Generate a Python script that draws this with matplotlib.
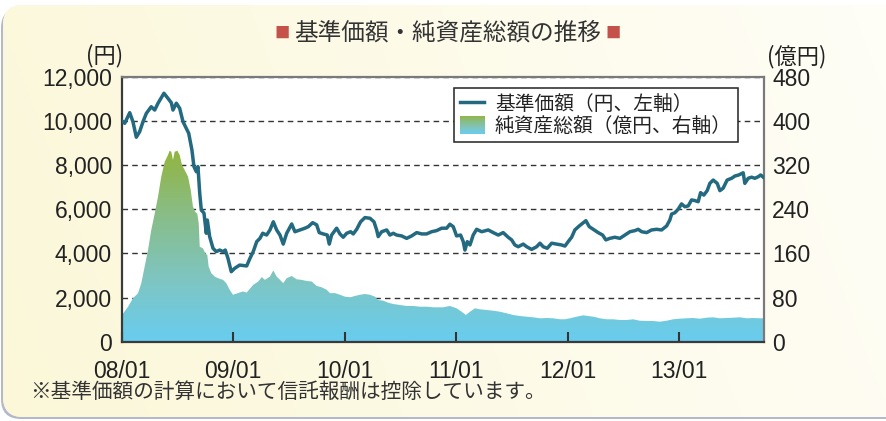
import numpy as np
import matplotlib
matplotlib.use('Agg')
import matplotlib.pyplot as plt
from matplotlib.patches import FancyBboxPatch, Patch
from matplotlib.lines import Line2D
from matplotlib.colors import LinearSegmentedColormap
from matplotlib.ticker import FuncFormatter, FixedLocator

plt.rcParams['font.family'] = ['Liberation Sans', 'Noto Sans CJK JP', 'DejaVu Sans']

# ---------------- data (decimal year, value) ----------------
nav_t = [2008.003, 2008.027, 2008.072, 2008.101, 2008.131, 2008.161, 2008.191, 2008.221, 2008.265, 2008.296,
         2008.326, 2008.379, 2008.415, 2008.445, 2008.460, 2008.490, 2008.520, 2008.550, 2008.579, 2008.601,
         2008.630, 2008.648, 2008.669, 2008.684, 2008.700, 2008.714, 2008.738, 2008.759, 2008.768, 2008.789,
         2008.819, 2008.848, 2008.879, 2008.909, 2008.929, 2008.953, 2008.983, 2009.013, 2009.058, 2009.121,
         2009.151, 2009.180, 2009.211, 2009.240, 2009.265, 2009.300, 2009.330, 2009.360, 2009.390, 2009.420,
         2009.449, 2009.480, 2009.525, 2009.554, 2009.599, 2009.644, 2009.674, 2009.713, 2009.749, 2009.772,
         2009.808, 2009.844, 2009.862, 2009.883, 2009.928, 2009.958, 2009.987, 2010.018, 2010.054, 2010.077,
         2010.108, 2010.143, 2010.182, 2010.227, 2010.263, 2010.287, 2010.301, 2010.332, 2010.377, 2010.406,
         2010.436, 2010.466, 2010.511, 2010.556, 2010.601, 2010.646, 2010.691, 2010.735, 2010.780, 2010.825,
         2010.870, 2010.915, 2010.944, 2010.974, 2011.004, 2011.040, 2011.064, 2011.079, 2011.100, 2011.124,
         2011.153, 2011.184, 2011.229, 2011.288, 2011.333, 2011.378, 2011.422, 2011.467, 2011.498, 2011.527,
         2011.557, 2011.602, 2011.633, 2011.677, 2011.722, 2011.752, 2011.781, 2011.817, 2011.857, 2011.901,
         2011.946, 2011.976, 2012.005, 2012.036, 2012.065, 2012.104, 2012.134, 2012.164, 2012.194, 2012.230,
         2012.274, 2012.314, 2012.343, 2012.379, 2012.424, 2012.469, 2012.514, 2012.559, 2012.604, 2012.633,
         2012.664, 2012.709, 2012.753, 2012.798, 2012.843, 2012.888, 2012.917, 2012.933, 2012.962, 2012.992,
         2013.022, 2013.052, 2013.082, 2013.112, 2013.142, 2013.171, 2013.193, 2013.222, 2013.252, 2013.276,
         2013.306, 2013.342, 2013.366, 2013.395, 2013.431, 2013.471, 2013.500, 2013.535, 2013.575, 2013.590,
         2013.620, 2013.650, 2013.680, 2013.710, 2013.732, 2013.755]
nav_v = [10000, 9890, 10370, 9960, 9260, 9510, 9960, 10340, 10640, 10490,
         10800, 11250, 11020, 10820, 10490, 10800, 10570, 9960, 9660, 9440,
         8680, 7930, 7700, 7930, 6720, 5960, 5820, 4910, 5510, 4760,
         4230, 4080, 4150, 4080, 4150, 3780, 3170, 3320, 3470, 3430,
         3780, 4080, 4530, 4680, 4910, 4830, 5060, 5430, 5060, 4830,
         4420, 4910, 5330, 4980, 5060, 5140, 5210, 5390, 5290, 4940,
         4880, 4830, 4420, 4830, 5140, 4880, 4730, 4910, 4980, 4880,
         5090, 5430, 5620, 5590, 5430, 5060, 4760, 4980, 5060, 4830,
         4910, 4830, 4790, 4680, 4790, 4940, 4880, 4880, 4980, 5030,
         5140, 5140, 5320, 5210, 4790, 4830, 4530, 4150, 4530, 4380,
         4830, 5090, 4980, 5060, 4940, 4830, 4940, 4730, 4610, 4380,
         4300, 4420, 4300, 4180, 4300, 4460, 4300, 4230, 4460, 4420,
         4380, 4330, 4530, 4730, 5060, 5240, 5360, 5480, 5210, 5090,
         4940, 4830, 4610, 4680, 4730, 4680, 4830, 4980, 5030, 5090,
         4980, 4940, 5060, 5090, 5060, 5240, 5510, 5780, 5840, 6000,
         6240, 6110, 6150, 6420, 6390, 6340, 6750, 6640, 6840, 7170,
         7320, 7170, 6840, 6950, 7320, 7400, 7500, 7550, 7650, 7170,
         7400, 7450, 7400, 7470, 7550, 7450]

aum_t = [2008.003, 2008.056, 2008.101, 2008.146, 2008.176, 2008.206, 2008.236, 2008.265, 2008.296, 2008.326,
         2008.355, 2008.386, 2008.415, 2008.430, 2008.445, 2008.460, 2008.475, 2008.499, 2008.520, 2008.541,
         2008.565, 2008.595, 2008.619, 2008.639, 2008.660, 2008.678, 2008.691, 2008.700, 2008.729, 2008.750,
         2008.768, 2008.780, 2008.804, 2008.834, 2008.864, 2008.909, 2008.938, 2008.969, 2008.998, 2009.043,
         2009.088, 2009.121, 2009.180, 2009.225, 2009.256, 2009.285, 2009.330, 2009.360, 2009.390, 2009.420,
         2009.449, 2009.480, 2009.525, 2009.570, 2009.614, 2009.659, 2009.704, 2009.749, 2009.794, 2009.839,
         2009.868, 2009.913, 2009.958, 2010.003, 2010.048, 2010.092, 2010.137, 2010.182, 2010.227, 2010.272,
         2010.301, 2010.346, 2010.391, 2010.436, 2010.496, 2010.556, 2010.615, 2010.675, 2010.735, 2010.795,
         2010.884, 2010.944, 2011.004, 2011.049, 2011.088, 2011.124, 2011.169, 2011.213, 2011.274, 2011.333,
         2011.393, 2011.453, 2011.512, 2011.572, 2011.632, 2011.691, 2011.752, 2011.812, 2011.871, 2011.931,
         2011.976, 2012.021, 2012.081, 2012.140, 2012.185, 2012.230, 2012.290, 2012.350, 2012.409, 2012.469,
         2012.529, 2012.588, 2012.648, 2012.709, 2012.768, 2012.827, 2012.888, 2012.947, 2013.007, 2013.067,
         2013.126, 2013.186, 2013.247, 2013.306, 2013.366, 2013.426, 2013.485, 2013.547, 2013.605, 2013.664,
         2013.724, 2013.755]
aum_v = [48.4, 63, 78.6, 87.6, 106, 136, 166, 202, 232, 263,
         299, 326, 338, 346, 344, 329, 344, 346, 338, 320,
         311, 299, 275, 245, 235, 232, 214, 172, 169, 160,
         157, 136, 124, 118, 115, 112, 106, 94, 85, 88,
         91, 89, 103, 109, 117, 112, 118, 129, 118, 112,
         106, 115, 119, 113, 112, 110, 109, 101, 98.5, 94,
         88, 88, 85, 81.5, 80.4, 82.8, 85, 86.4, 85, 81.5,
         75.5, 74.3, 70.6, 68.3, 66.5, 64.7, 64.7, 63.4, 63.4, 62.3,
         62.3, 64.7, 60.5, 54.3, 48.4, 54.3, 60.5, 58.7, 57.4, 56.1,
         54.3, 51.4, 48.4, 46.5, 45.3, 44.2, 42.4, 42.9, 42.4, 40.6,
         40.6, 42.4, 45.3, 47.8, 46.5, 45.3, 42.4, 40.6, 40.6, 39.3,
         39.3, 40.6, 38, 37.5, 37.5, 36.2, 38, 40.6, 41.7, 42.4,
         42.9, 41.7, 43.5, 44.2, 42.4, 42.9, 43.5, 44.2, 42.4, 42.9,
         42.4, 42.4]

x_ticks = [2008, 2009, 2010, 2011, 2012, 2013]
x_tick_labels = ['08/01', '09/01', '10/01', '11/01', '12/01', '13/01']
left_ticks = [0, 2000, 4000, 6000, 8000, 10000, 12000]
right_ticks = [0, 80, 160, 240, 320, 400, 480]

title_text = '基準価額・純資産総額の推移'
legend_labels = ['基準価額（円、左軸）', '純資産総額（億円、右軸）']
left_unit = '(円)'
right_unit = '(億円)'
footnote = '※基準価額の計算において信託報酬は控除しています。'

# ---------------- figure ----------------
W, H = 886, 421
fig = plt.figure(figsize=(W / 100, H / 100), dpi=100)
fig.patch.set_facecolor('white')

def fx(px):
    return px / W

def fy(py):
    return 1 - py / H

CJK = ['Noto Sans CJK JP', 'DejaVu Sans']

# background panel with gradient
bg = fig.add_axes([0, 0, 1, 1], zorder=-10)
bg.set_xlim(0, W)
bg.set_ylim(H, 0)
bg.axis('off')
shadow = FancyBboxPatch((1, 8), W + 40, 411, boxstyle='round,pad=0,rounding_size=20',
                        facecolor='#b3b8cb', edgecolor='none')
bg.add_patch(shadow)
panel = FancyBboxPatch((3, 5), W + 40, 412, boxstyle='round,pad=0,rounding_size=20',
                       facecolor='#fcf9e2', edgecolor='none')
bg.add_patch(panel)
gx = np.linspace(0, 1, 200)[None, :]
gy = np.linspace(0, 1, 100)[:, None]
mix = np.clip(gx * 0.85 + (1 - gy) * 0.15, 0, 1)
c0 = np.array([0xfb, 0xf7, 0xd8]) / 255
c1 = np.array([0xff, 0xfe, 0xf7]) / 255
img = c0[None, None, :] * (1 - mix[..., None]) + c1[None, None, :] * mix[..., None]
bim = bg.imshow(img, extent=[0, W, H, 0], aspect='auto', interpolation='bilinear', zorder=1)
bim.set_clip_path(panel)
bg.set_xlim(0, W)
bg.set_ylim(H, 0)

# main axes
L, R, T, B = 121.7, 763.7, 76.7, 341.7
ax = fig.add_axes([fx(L), fy(B), (R - L) / W, (B - T) / H])
ax2 = ax.twinx()
ax.set_zorder(3)
ax2.set_zorder(2)
ax.patch.set_visible(False)
ax2.patch.set_visible(True)
ax2.patch.set_facecolor('white')

xmin, xmax = 2008.0, 2013.759
ax.set_xlim(xmin, xmax)
ax.set_ylim(0, 12000)
ax2.set_ylim(0, 480)

# area with vertical gradient (right axis)
poly = ax2.fill_between(aum_t, aum_v, 0, facecolor='none', edgecolor='none')
cmap = LinearSegmentedColormap.from_list('aum', ['#68cdf0', '#7fc5c0', '#89bd86', '#93b43c'])
grad = np.linspace(0, 1, 256)[:, None]
im = ax2.imshow(grad, extent=[xmin, xmax, 0, 350], origin='lower', aspect='auto',
                cmap=cmap, interpolation='bilinear', zorder=2)
im.set_clip_path(poly.get_paths()[0], ax2.transData)
ax2.set_xlim(xmin, xmax)
ax2.set_ylim(0, 480)

# grid (under area)
ax2.yaxis.set_major_locator(FixedLocator(right_ticks))
ax2.grid(axis='y', linestyle=(0, (4, 3)), color='#333333', linewidth=1.0, zorder=1)
ax2.set_axisbelow(True)

# NAV line (left axis)
ax.plot(nav_t, nav_v, color='#236a80', linewidth=2.5, solid_joinstyle='round', zorder=5)

# ticks
ax.xaxis.set_major_locator(FixedLocator(x_ticks))
ax.set_xticklabels(x_tick_labels)
ax.tick_params(axis='x', direction='in', length=7, width=1.5, color='#333333',
               pad=13, labelsize=16.5, labelcolor='#222222')
ax.yaxis.set_major_locator(FixedLocator(left_ticks))
ax.yaxis.set_major_formatter(FuncFormatter(lambda v, p: f'{int(v):,}'))
ax.tick_params(axis='y', length=0, pad=7, labelsize=16.5, labelcolor='#222222')
ax2.tick_params(axis='y', length=0, pad=6, labelsize=16.5, labelcolor='#222222')

for a in (ax, ax2):
    for s in a.spines.values():
        s.set_visible(False)
for name, col in (('left', '#3a3a3a'), ('bottom', '#3a3a3a'), ('top', '#7a7a7a'), ('right', '#7a7a7a')):
    ax.spines[name].set_visible(True)
    ax.spines[name].set_color(col)
    ax.spines[name].set_linewidth(1.6)

# legend
handles = [Line2D([], [], color='#236a80', linewidth=2.5),
           Patch(facecolor='none', edgecolor='none')]
leg = ax.legend(handles, legend_labels, loc='upper left',
                bbox_to_anchor=(fx(454), fy(88.3)), bbox_transform=fig.transFigure,
                borderaxespad=0, prop={'family': CJK, 'size': 14.2}, frameon=True, fancybox=False,
                framealpha=1, edgecolor='#222222', handlelength=1.25, handleheight=1.05,
                handletextpad=0.55, labelspacing=0.05, borderpad=0.28)
leg.get_frame().set_linewidth(1.1)
for t in leg.get_texts():
    t.set_color('#222222')
leg.set_zorder(10)

# titles and texts
fig.text(fx(448), fy(33), title_text, ha='center', va='center', fontsize=17,
         color='#333333', family=CJK)
fig.text(fx(282.5), fy(33), '■', ha='center', va='center', fontsize=11,
         color='#c4514a', family=CJK)
fig.text(fx(613), fy(33), '■', ha='center', va='center', fontsize=11,
         color='#c4514a', family=CJK)
fig.text(fx(123), fy(56), left_unit, ha='right', va='center', fontsize=16,
         color='#222222', family=CJK)
fig.text(fx(767), fy(57), right_unit, ha='left', va='center', fontsize=16,
         color='#222222', family=CJK)
fig.text(fx(30), fy(391.5), footnote, ha='left', va='center', fontsize=14.9,
         color='#333333', family=CJK)

# gradient swatch inside legend handle
fig.canvas.draw()
ph = leg.get_patches()[0]
bb = ph.get_window_extent(fig.canvas.get_renderer())
sw = fig.add_axes([bb.x0 / W, bb.y0 / H, bb.width / W, bb.height / H], zorder=20)
sw.imshow(grad, origin='lower', aspect='auto', cmap=cmap, extent=[0, 1, 0, 1])
sw.set_axis_off()

fig.savefig('out.png', dpi=100)
